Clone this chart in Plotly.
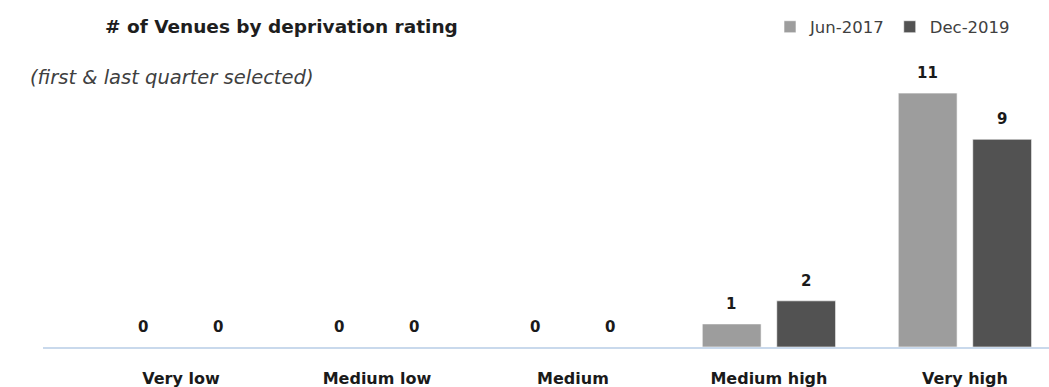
import plotly.graph_objects as go

categories = ["Very low", "Medium low", "Medium", "Medium high", "Very high"]
jun_2017 = [0, 0, 0, 1, 11]
dec_2019 = [0, 0, 0, 2, 9]
series_names = ["Jun-2017", "Dec-2019"]
series_colors = ["#9d9d9d", "#525252"]

W, H = 1049, 387
L, R, T, B = 43, 0, 70, 40
FONT = "DejaVu Sans, sans-serif"

fig = go.Figure()
for name, vals, col in zip(series_names, [jun_2017, dec_2019], series_colors):
    fig.add_trace(go.Bar(
        x=categories, y=vals, name=name,
        marker=dict(color=col, line=dict(color="rgba(255,255,255,0.6)", width=1)),
    ))

# data labels
for k, vals in enumerate([jun_2017, dec_2019]):
    shift = -37.5 if k == 0 else 37.5
    for c, v in zip(categories, vals):
        fig.add_annotation(
            x=c, y=v, xref="x", yref="y", text="<b>%d</b>" % v, showarrow=False,
            xshift=shift, yshift=20, yanchor="middle",
            font=dict(family=FONT, size=15, color="#1a1a1a"),
        )

plot_w = W - L - R
plot_h = H - T - B

fig.add_annotation(
    x=(28 - L) / plot_w, y=(H - B - 77) / plot_h, xref="paper", yref="paper",
    text="<i>(first &amp; last quarter selected)</i>",
    showarrow=False, xanchor="left", yanchor="middle",
    font=dict(family=FONT, size=19.5, color="#404040"),
)

fig.update_layout(
    width=W, height=H,
    margin=dict(l=L, r=R, t=T, b=B),
    paper_bgcolor="white", plot_bgcolor="white",
    barmode="group", bargap=0.24, bargroupgap=0.21,
    title=dict(
        text="<b># of Venues by deprivation rating</b>",
        xref="container", yref="container", x=105 / W, y=1 - 27 / H,
        xanchor="left", yanchor="middle",
        font=dict(family=FONT, size=18.5, color="#1e1e1e"),
    ),
    legend=dict(
        orientation="h", xref="paper", yref="paper",
        x=(1015 - L) / plot_w, xanchor="right",
        y=(H - B - 27) / plot_h, yanchor="middle",
        font=dict(family=FONT, size=16.5, color="#404040"),
        itemwidth=30, bgcolor="rgba(0,0,0,0)",
    ),
    showlegend=True,
    xaxis=dict(
        type="category", range=[-0.704, 4.429],
        showline=True, linecolor="#c9d9ec", linewidth=2,
        showgrid=False, zeroline=False, ticks="",
        ticklabelstandoff=16,
        tickfont=dict(family=FONT, size=16, color="#1a1a1a", weight="bold"),
    ),
    yaxis=dict(
        range=[0, 12], visible=False, showgrid=False, zeroline=False,
    ),
)

fig.write_html("out.html")
